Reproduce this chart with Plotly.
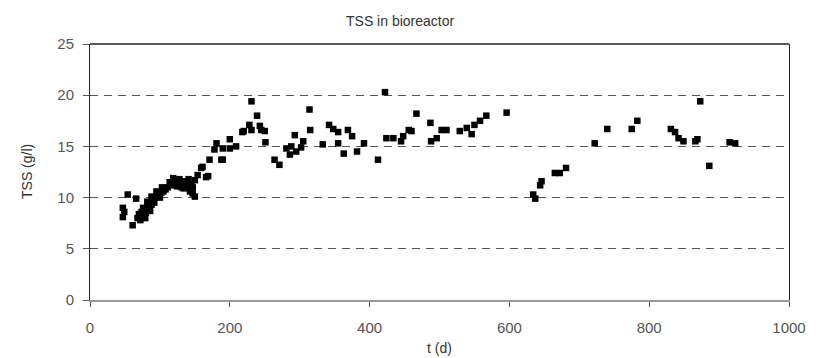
import plotly.graph_objects as go

t_days = [47, 47, 49, 54, 61, 66, 68, 70, 72, 74, 76, 78, 80, 82, 84, 86, 88, 90, 93, 96,
          99, 102, 105, 108, 111, 114, 117, 119, 122, 125, 128, 131, 134, 137, 140, 143, 145, 147, 150, 150,
          154, 159, 161, 166, 169, 171, 178, 181, 188, 190, 190, 200, 200, 209, 218, 220, 228, 231, 231, 239,
          243, 245, 250, 251, 264, 271, 281, 286, 288, 293, 295, 302, 305, 314, 315, 333,
          342, 348, 355, 355, 363, 369, 375, 382, 392, 412, 422, 424, 434, 445, 448, 456, 460, 467,
          487, 488, 496, 503, 510, 529, 539, 546, 550, 558, 567, 596,
          634, 637, 644, 646, 665, 672, 681, 722, 740, 775, 783,
          831, 837, 842, 849, 866, 869, 873, 886, 915, 923,
          76, 82, 88, 95, 103, 79, 86, 92, 100, 128, 136, 141, 147]
tss_gl = [9.0, 8.1, 8.6, 10.3, 7.3, 9.9, 8.0, 8.4, 7.8, 8.6, 8.2, 8.9, 8.5, 9.2, 8.8, 9.5, 9.3, 9.9, 10.0, 10.2,
          10.4, 10.5, 10.6, 10.8, 11.0, 11.5, 11.2, 11.9, 11.7, 11.1, 11.4, 11.0, 10.9, 11.3, 11.1, 10.6, 11.3, 10.4, 10.1, 11.7,
          12.2, 12.9, 13.0, 12.0, 12.1, 13.7, 14.7, 15.3, 13.7, 14.8, 13.7, 15.7, 14.8, 15.0, 16.4, 16.5, 17.1, 19.4, 16.6, 18.0,
          17.0, 16.6, 16.5, 15.4, 13.7, 13.2, 14.8, 14.2, 15.0, 16.1, 14.5, 14.9, 15.5, 18.6, 16.6, 15.2,
          17.1, 16.7, 16.4, 15.3, 14.3, 16.6, 16.0, 14.5, 15.3, 13.7, 20.3, 15.8, 15.8, 15.5, 16.0, 16.6, 16.5, 18.2,
          17.3, 15.5, 15.8, 16.6, 16.6, 16.5, 16.8, 16.2, 17.1, 17.5, 18.0, 18.3,
          10.3, 9.9, 11.2, 11.6, 12.4, 12.4, 12.9, 15.3, 16.7, 16.7, 17.5,
          16.7, 16.4, 15.8, 15.5, 15.5, 15.7, 19.4, 13.1, 15.4, 15.3,
          9.0, 9.6, 10.1, 10.6, 11.0, 8.0, 8.7, 9.5, 10.0, 11.8, 11.6, 11.8, 11.0]

x_ticks = [0, 200, 400, 600, 800, 1000]
y_ticks = [0, 5, 10, 15, 20, 25]

font_family = "Liberation Sans, Arial, sans-serif"

fig = go.Figure()
fig.add_trace(go.Scatter(
    x=t_days, y=tss_gl, mode="markers",
    marker=dict(symbol="square", size=6.5, color="#000000", line=dict(width=0)),
    showlegend=False, hoverinfo="skip",
))

fig.update_layout(
    width=822, height=358,
    margin=dict(l=90, r=33, t=44, b=58),
    paper_bgcolor="white", plot_bgcolor="white",
    font=dict(family=font_family, size=15, color="#444444"),
    xaxis=dict(range=[0, 1000], tickvals=x_ticks, ticktext=[str(v) for v in x_ticks],
               showgrid=False, zeroline=False, automargin=False,
               showline=True, linecolor="#999999", linewidth=2,
               ticks="outside", ticklen=5, tickcolor="#555555", tickwidth=1,
               ticklabelstandoff=8,
               tickfont=dict(size=15, color="#555555")),
    yaxis=dict(range=[0, 25], tickvals=y_ticks, ticktext=[str(v) for v in y_ticks],
               showgrid=True, gridcolor="#555555", gridwidth=1, griddash="8px,6px",
               zeroline=False, automargin=False,
               showline=True, linecolor="#222222", linewidth=1, mirror=True,
               ticks="outside", ticklen=6, tickcolor="#555555", tickwidth=1,
               ticklabelstandoff=6,
               tickfont=dict(size=15, color="#555555")),
    shapes=[dict(type="line", xref="paper", yref="paper", x0=0, x1=1, y0=1, y1=1,
                 line=dict(color="#222222", width=1.5))],
    annotations=[
        dict(text="TSS in bioreactor", xref="paper", yref="paper", x=(400 - 90) / 699, y=1,
             xanchor="center", yanchor="middle", yshift=23, showarrow=False,
             font=dict(family=font_family, size=14, color="#333333")),
        dict(text="t (d)", xref="paper", yref="paper", x=0.5, y=0,
             xanchor="center", yanchor="middle", yshift=-48, showarrow=False,
             font=dict(family=font_family, size=14, color="#333333")),
        dict(text="TSS (g/l)", xref="paper", yref="paper", x=0, y=0.5, textangle=-90,
             xanchor="center", yanchor="middle", xshift=-63, showarrow=False,
             font=dict(family=font_family, size=14, color="#333333")),
    ],
)

fig.write_html("out.html")
